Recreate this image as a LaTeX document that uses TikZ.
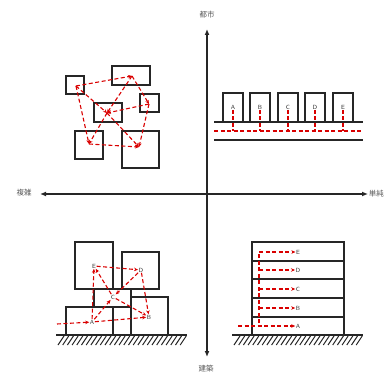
\documentclass[tikz,border=0pt]{standalone}
\usepackage{fontspec}
\newfontfamily\cjk{Noto Sans CJK JP}
\usetikzlibrary{arrows.meta}

\begin{document}
\begin{tikzpicture}[x=1pt,y=-1pt,
  box/.style={draw=black!85,line width=1.2pt},
  axis/.style={draw=black!85,line width=1.4pt,-{Latex[length=6pt,width=5pt]}},
  route/.style={draw=red!85!black,dash pattern=on 4pt off 2.5pt,line width=1.1pt},
  flow/.style={route,-{Stealth[length=4pt,width=3.5pt]}},
  axlabel/.style={font=\cjk\fontsize{7.5}{8}\selectfont,text=black!65,inner sep=0pt},
  tag/.style={font=\sffamily\fontsize{6}{6}\selectfont,text=black!80,inner sep=0.5pt},
  ground/.style={draw=black!85,line width=1.2pt},
  hatch/.style={draw=black!85,line width=1pt},
]
\useasboundingbox (0,0) rectangle (385,374);

% ---- axes ----
\coordinate (o) at (207,194);
\coordinate (top) at (207,29);
\coordinate (bot) at (207,357);
\coordinate (lft) at (40,194);
\coordinate (rgt) at (368,194);
\draw[axis] (o) -- (top);
\draw[axis] (o) -- (bot);
\draw[axis] (o) -- (lft);
\draw[axis] (o) -- (rgt);
\node[axlabel] (city) at (207,15) {都市};
\node[axlabel] (complex) at (24,193) {複雑};
\node[axlabel,anchor=east] (simple) at (384,194) {単純};
\node[axlabel] (arch) at (206,369) {建築};

% ---- city / simple: row of buildings on a street ----
\draw[ground] (214,122) -- (363,122);
\draw[ground] (214,140) -- (363,140);
\foreach \x/\l in {233/A,260/B,288/C,315/D,343/E}{
  \draw[box] ({\x-10},122) -- ({\x-10},93) -- ({\x+10},93) -- ({\x+10},122);
  \node[tag] (s\l) at (\x,107) {\l};
  \draw[route] (s\l.south) -- (\x,131);
}
\draw[route] (214,131) -- (363,131);

% ---- city / complex: scattered blocks ----
\draw[box] (66,76) rectangle (84,94);
\draw[box] (112,66) rectangle (150,85);
\draw[box] (140,94) rectangle (159,112);
\draw[box] (94,103) rectangle (122,122);
\draw[box] (75,131) rectangle (103,159);
\draw[box] (122,131) rectangle (159,168);
\coordinate (p1) at (76,86);
\coordinate (p2) at (132,76);
\coordinate (p3) at (149,104);
\coordinate (p4) at (107,113);
\coordinate (p5) at (89,144);
\coordinate (p6) at (139,147);
\draw[flow] (p1) -- (p2);
\draw[flow] (p2) -- (p4);
\draw[flow] (p2) -- (p3);
\draw[flow] (p1) -- (p4);
\draw[flow] (p3) -- (p4);
\draw[flow] (p3) -- (p6);
\draw[flow] (p4) -- (p6);
\draw[flow] (p1) -- (p5);
\draw[flow] (p4) -- (p5);
\draw[flow] (p5) -- (p6);

% ---- architecture / complex: stacked blocks ----
\draw[box] (75,242) rectangle (113,289);
\draw[box] (122,252) rectangle (159,289);
\draw[box] (94,289) rectangle (131,307);
\draw[box] (66,307) rectangle (131,335);
\draw[box] (113,307) -- (113,335);
\draw[box] (131,297) rectangle (168,335);
\draw[ground] (56,335) -- (187,335);
\foreach \x in {58,62.7,...,182}{
  \draw[hatch] (\x,345) -- ({\x+6},336);
}
\coordinate (q0) at (57,324);
\node[tag] (qE) at (94,266) {E};
\node[tag] (qD) at (141,270) {D};
\node[tag] (qC) at (113,297) {C};
\node[tag] (qB) at (149,317) {B};
\node[tag] (qA) at (92,322) {A};
\draw[flow] (q0) -- (qA);
\draw[flow] (qA) -- (qB);
\draw[flow] (qA) -- (qC);
\draw[flow] (qA) -- (qE);
\draw[flow] (qC) -- (qB);
\draw[flow] (qC) -- (qE);
\draw[flow] (qE) -- (qD);
\draw[flow] (qD) -- (qC);
\draw[flow] (qD) -- (qB);

% ---- architecture / simple: stacked floors ----
\draw[box] (252,242) rectangle (344,335);
\foreach \y in {261,279,298,317}{
  \draw[box] (252,\y) -- (344,\y);
}
\draw[ground] (232,335) -- (363,335);
\foreach \x in {234,238.7,...,358}{
  \draw[hatch] (\x,345) -- ({\x+6},336);
}
\coordinate (f0) at (238,326);
\coordinate (fv) at (259,323);
\coordinate (ftop) at (259,252);
\draw[route] (fv) -- (ftop);
\node[tag] (fA) at (298,326) {A};
\node[tag] (fB) at (298,308) {B};
\node[tag] (fC) at (298,289) {C};
\node[tag] (fD) at (298,270) {D};
\node[tag] (fE) at (298,252) {E};
\draw[flow] (f0) -- (fA);
\draw[flow] (259,308) -- (fB);
\draw[flow] (259,289) -- (fC);
\draw[flow] (259,270) -- (fD);
\draw[flow] (ftop) -- (fE);
\end{tikzpicture}
\end{document}
